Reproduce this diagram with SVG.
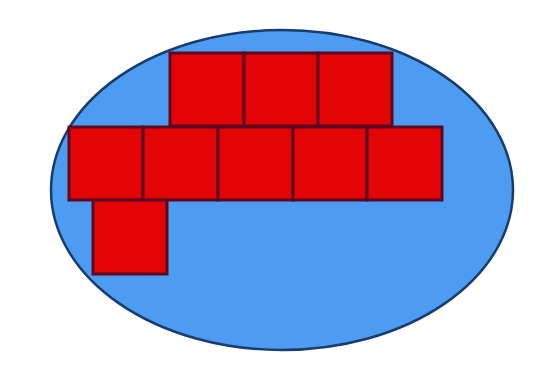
<svg xmlns="http://www.w3.org/2000/svg" width="533" height="366" viewBox="0 0 533 366">
<style>
.sq{fill:#e30505;stroke:#5c0820;stroke-width:3}
</style>
<rect width="533" height="366" fill="#ffffff"/>
<g id="ellipse"><ellipse cx="282" cy="190" rx="231" ry="160" fill="#4d9cf2" stroke="#183c6e" stroke-width="2.5"/></g>
<g id="top-row">
<rect class="sq" x="170" y="53" width="74" height="73"/>
<rect class="sq" x="244" y="53" width="74" height="73"/>
<rect class="sq" x="318" y="53" width="74" height="73"/>
</g>
<g id="middle-row">
<rect class="sq" x="69" y="127" width="74" height="73"/>
<rect class="sq" x="143" y="127" width="75" height="73"/>
<rect class="sq" x="218" y="127" width="75" height="73"/>
<rect class="sq" x="293" y="127" width="74" height="73"/>
<rect class="sq" x="367" y="127" width="75" height="73"/>
</g>
<g id="bottom-square">
<rect class="sq" x="93" y="200" width="74" height="74"/>
</g>
</svg>
